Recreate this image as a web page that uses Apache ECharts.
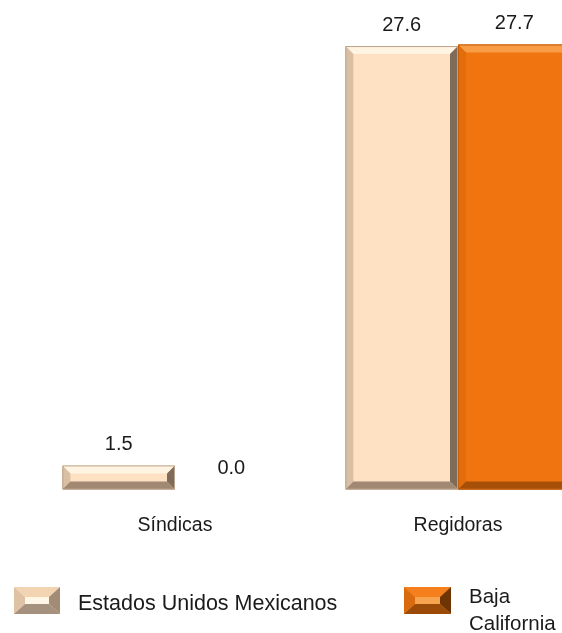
<!DOCTYPE html>
<html>
<head>
<meta charset="utf-8">
<script src="https://cdn.jsdelivr.net/npm/echarts@6/dist/echarts.min.js"></script>
<style>
html,body{margin:0;padding:0;background:#fff;}
#chart{width:562px;height:633px;}
</style>
</head>
<body>
<div id="chart"></div>
<script>
const categories = ['Síndicas', 'Regidoras'];
const seriesNames = ['Estados Unidos Mexicanos', 'Baja California'];
const eumValues = [1.5, 27.6];
const bcValues = [0.0, 27.7];

const palettes = [
  { face: '#FDE1C2', top: '#FFF3E2', left: '#D9BFA3', right: '#7F6B5A', bottom: '#A08872', edge: '#B9A38C',
    iTop: '#F2D3B2', iFace: '#FFF6E6', iLeft: '#DFC2A3', iRight: '#A28C76', iBottom: '#A5917D' },
  { face: '#F07511', top: '#F89C45', left: '#E36D0C', right: '#8A4207', bottom: '#A64F09', edge: '#C45E0A',
    iTop: '#F47F1C', iFace: '#F8A34E', iLeft: '#D96A0E', iRight: '#6E3404', iBottom: '#9C4A08' }
];

function bevelSvg(p, w, h, bx, by) {
  const svg = "<svg xmlns='http://www.w3.org/2000/svg' width='" + w + "' height='" + h + "'>" +
    "<rect width='" + w + "' height='" + h + "' fill='" + p.iFace + "'/>" +
    "<polygon points='0,0 " + w + ",0 " + (w - bx) + "," + by + " " + bx + "," + by + "' fill='" + p.iTop + "'/>" +
    "<polygon points='0,0 " + bx + "," + by + " " + bx + "," + (h - by) + " 0," + h + "' fill='" + p.iLeft + "'/>" +
    "<polygon points='" + w + ",0 " + w + "," + h + " " + (w - bx) + "," + (h - by) + " " + (w - bx) + "," + by + "' fill='" + p.iRight + "'/>" +
    "<polygon points='0," + h + " " + bx + "," + (h - by) + " " + (w - bx) + "," + (h - by) + " " + w + "," + h + "' fill='" + p.iBottom + "'/>" +
    "</svg>";
  return 'image://data:image/svg+xml;charset=utf-8,' + encodeURIComponent(svg);
}

const FONT = "'Liberation Sans', Arial, sans-serif";

function makeRender(seriesIdx) {
  const p = palettes[seriesIdx];
  return function (params, api) {
    const cat = api.value(0);
    const val = api.value(1);
    const base = api.coord([cat, 0]);
    const top = api.coord([cat, val]);
    const band = api.size([1, 0])[0];
    const bw = band * 0.398;
    const x0 = seriesIdx === 0 ? base[0] - bw : base[0];
    const x1 = x0 + bw;
    const y0 = top[1];
    const y1 = base[1];
    const h = y1 - y0;
    const children = [];
    if (h > 0.5) {
      const b = Math.min(8, h / 2.6);
      children.push({ type: 'rect', shape: { x: x0, y: y0, width: bw, height: h }, style: { fill: p.face } });
      children.push({ type: 'polygon', shape: { points: [[x0, y0], [x1, y0], [x1 - b, y0 + b], [x0 + b, y0 + b]] }, style: { fill: p.top } });
      children.push({ type: 'polygon', shape: { points: [[x0, y0], [x0 + b, y0 + b], [x0 + b, y1 - b], [x0, y1]] }, style: { fill: p.left } });
      children.push({ type: 'polygon', shape: { points: [[x1, y0], [x1, y1], [x1 - b, y1 - b], [x1 - b, y0 + b]] }, style: { fill: p.right } });
      children.push({ type: 'polygon', shape: { points: [[x0, y1], [x0 + b, y1 - b], [x1 - b, y1 - b], [x1, y1]] }, style: { fill: p.bottom } });
      children.push({ type: 'rect', shape: { x: x0 + 0.5, y: y0 + 0.5, width: bw - 1, height: h - 1 }, style: { fill: null, stroke: p.edge, lineWidth: 1 } });
    }
    children.push({
      type: 'text',
      style: {
        text: val.toFixed(1),
        x: x0 + bw / 2,
        y: y0 - 21,
        align: 'center',
        verticalAlign: 'middle',
        fill: '#1a1a1a',
        font: '20px ' + FONT
      }
    });
    return { type: 'group', children: children };
  };
}

const chart = echarts.init(document.getElementById('chart'), null, { renderer: 'canvas' });
chart.setOption({
  animation: false,
  backgroundColor: '#ffffff',
  grid: { left: 33.5, width: 566, top: 7.5, height: 482, containLabel: false, outerBoundsMode: 'none' },
  xAxis: {
    type: 'category',
    data: categories,
    axisLine: { show: false },
    axisTick: { show: false },
    splitLine: { show: false },
    axisLabel: { margin: 26, fontSize: 19.5, color: '#1a1a1a', fontFamily: FONT }
  },
  yAxis: { type: 'value', min: 0, max: 30, show: false, splitLine: { show: false } },
  legend: [
    {
      data: [{ name: seriesNames[0], icon: bevelSvg(palettes[0], 46, 27, 11, 10) }],
      left: 9, top: 578.5, itemWidth: 46, itemHeight: 27, selectedMode: false,
      formatter: function (n) { return '{s| }\n{t|' + n + '}'; },
      textStyle: {
        fontSize: 21.5, color: '#1a1a1a', fontFamily: FONT, padding: [0, 0, 0, 13],
        rich: {
          s: { fontSize: 8, lineHeight: 8, fontFamily: FONT },
          t: { fontSize: 21.5, lineHeight: 26, color: '#1a1a1a', fontFamily: FONT }
        }
      }
    },
    {
      data: [{ name: seriesNames[1], icon: bevelSvg(palettes[1], 47, 27, 11, 10) }],
      left: 399, top: 558.5, itemWidth: 47, itemHeight: 27, selectedMode: false,
      formatter: function (n) { const w = n.split(' '); return '{s| }\n{t|' + w[0] + '}\n{t|' + w[1] + '}'; },
      textStyle: {
        fontSize: 20.5, color: '#1a1a1a', fontFamily: FONT, padding: [0, 0, 0, 13],
        rich: {
          s: { fontSize: 20, lineHeight: 21, fontFamily: FONT },
          t: { fontSize: 20.5, lineHeight: 27, color: '#1a1a1a', fontFamily: FONT }
        }
      }
    }
  ],
  series: [
    {
      name: seriesNames[0], type: 'custom', renderItem: makeRender(0),
      itemStyle: { color: palettes[0].face },
      encode: { x: 0, y: 1 },
      data: categories.map(function (c, i) { return [i, eumValues[i]]; })
    },
    {
      name: seriesNames[1], type: 'custom', renderItem: makeRender(1),
      itemStyle: { color: palettes[1].face },
      encode: { x: 0, y: 1 },
      data: categories.map(function (c, i) { return [i, bcValues[i]]; })
    }
  ]
});
</script>
</body>
</html>
